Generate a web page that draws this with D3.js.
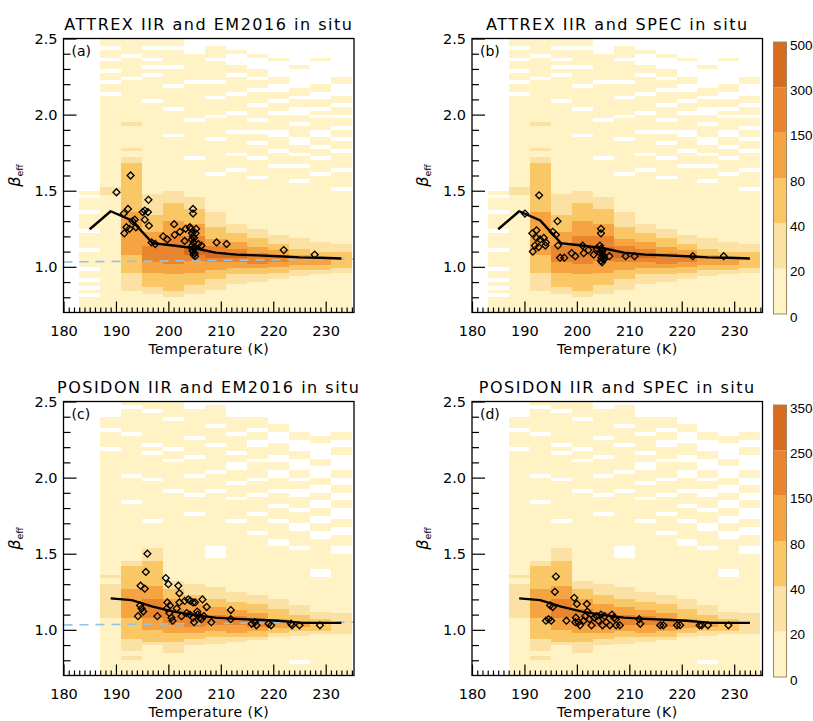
<!DOCTYPE html>
<html lang="en">
<head>
<meta charset="utf-8" />
<title>beta_eff versus temperature</title>
<script src="https://cdn.jsdelivr.net/npm/d3@7"></script>
<style>
  body { margin: 0; background: #fff; }
  svg { font-family: "DejaVu Sans", sans-serif; }
  .axis text { font-family: "DejaVu Sans", sans-serif; font-size: 14.5px; fill: #000; }
  .axis line { stroke-width: 1.2px; }
  .bar text { font-family: "Liberation Sans", sans-serif; font-size: 13.5px; fill: #000; }
</style>
</head>
<body>
<svg id="chart" width="813" height="721"></svg>
<script>
// temperature bins (K), 4 K wide
var colStart = [183, 187, 191, 195, 199, 203, 207, 211, 215, 219, 223, 227, 231];
var colWidth = 4;

// colour bar ticks (counts)
var attrexBar = [0, 20, 40, 80, 150, 300, 500];
var posidonBar = [0, 20, 40, 80, 150, 250, 350];
var levelColours = ["#fff3c6", "#fce1a4", "#f9c766", "#f5a441", "#e8852e", "#d56c20"];

// histogram bands per column: [beta from, beta to, count]
var attrexBands = [
  [[0.70, 1.50, 10]],
  [[0.70, 1.475, 10], [1.475, 1.525, 30], [1.525, 2.50, 10]],
  [[0.70, 0.84, 10], [0.84, 0.96, 30], [0.96, 1.08, 60], [1.08, 1.36, 110], [1.36, 1.68, 60], [1.68, 1.72, 30], [1.72, 1.76, 10], [1.76, 1.78, 30], [1.78, 1.925, 10], [1.925, 1.95, 30], [1.95, 2.50, 10]],
  [[0.70, 0.82, 10], [0.82, 0.87, 30], [0.87, 0.96, 60], [0.96, 1.03, 110], [1.03, 1.14, 220], [1.14, 1.23, 110], [1.23, 1.34, 60], [1.34, 1.48, 30], [1.48, 2.50, 10]],
  [[0.70, 0.80, 10], [0.80, 0.84, 30], [0.84, 0.95, 60], [0.95, 1.02, 110], [1.02, 1.20, 220], [1.20, 1.30, 110], [1.30, 1.42, 60], [1.42, 1.50, 30], [1.50, 2.50, 10]],
  [[0.70, 0.82, 10], [0.82, 0.88, 30], [0.88, 0.96, 60], [0.96, 1.04, 110], [1.04, 1.08, 220], [1.08, 1.13, 400], [1.13, 1.20, 220], [1.20, 1.28, 110], [1.28, 1.38, 60], [1.38, 1.46, 30], [1.46, 2.50, 10]],
  [[0.70, 0.85, 10], [0.85, 0.92, 30], [0.92, 0.98, 60], [0.98, 1.03, 110], [1.03, 1.06, 220], [1.06, 1.10, 400], [1.10, 1.14, 220], [1.14, 1.18, 110], [1.18, 1.26, 60], [1.26, 1.36, 30], [1.36, 2.50, 10]],
  [[0.70, 0.89, 10], [0.89, 0.95, 30], [0.95, 0.99, 60], [0.99, 1.03, 110], [1.03, 1.06, 220], [1.06, 1.09, 400], [1.09, 1.12, 220], [1.12, 1.16, 110], [1.16, 1.22, 60], [1.22, 1.28, 30], [1.28, 2.50, 10]],
  [[0.70, 0.90, 10], [0.90, 0.95, 30], [0.95, 0.99, 60], [0.99, 1.02, 110], [1.02, 1.09, 220], [1.09, 1.13, 110], [1.13, 1.19, 60], [1.19, 1.25, 30], [1.25, 2.50, 10]],
  [[0.70, 0.92, 10], [0.92, 0.96, 30], [0.96, 1.00, 60], [1.00, 1.03, 110], [1.03, 1.08, 220], [1.08, 1.11, 110], [1.11, 1.15, 60], [1.15, 1.21, 30], [1.21, 2.50, 10]],
  [[0.70, 0.94, 10], [0.94, 0.98, 30], [0.98, 1.01, 60], [1.01, 1.08, 110], [1.08, 1.12, 60], [1.12, 1.19, 30], [1.19, 2.50, 10]],
  [[0.70, 0.95, 10], [0.95, 0.98, 30], [0.98, 1.01, 60], [1.01, 1.06, 110], [1.06, 1.10, 60], [1.10, 1.16, 30], [1.16, 2.50, 10]],
  [[0.70, 0.96, 10], [0.96, 0.99, 30], [0.99, 1.10, 60], [1.10, 1.15, 30], [1.15, 2.50, 10]]
];
// empty beta bins per column: [from, to]
var attrexGaps = [
  [[0.80, 0.825], [0.85, 0.875], [0.90, 0.925], [0.975, 1.0], [1.10, 1.125], [1.225, 1.25], [1.35, 1.375], [1.45, 1.475]],
  [[2.125, 2.15], [2.20, 2.225], [2.275, 2.30], [2.35, 2.375], [2.425, 2.45]],
  [[2.225, 2.25], [2.375, 2.40]],
  [[2.075, 2.10], [2.25, 2.275], [2.30, 2.325], [2.35, 2.375], [2.425, 2.45]],
  [[1.85, 1.875], [2.025, 2.05], [2.175, 2.20], [2.30, 2.325], [2.425, 2.45]],
  [[1.70, 1.725], [1.95, 1.975], [2.20, 2.225], [2.40, 2.50]],
  [[1.60, 1.625], [1.825, 1.85], [1.975, 2.0], [2.10, 2.125], [2.20, 2.225], [2.35, 2.375], [2.45, 2.50]],
  [[1.625, 1.65], [1.725, 1.75], [1.875, 1.90], [2.0, 2.025], [2.125, 2.15], [2.25, 2.275], [2.325, 2.40], [2.425, 2.50]],
  [[1.575, 1.60], [1.70, 1.725], [1.80, 1.825], [1.875, 1.90], [1.95, 1.975], [2.05, 2.075], [2.15, 2.175], [2.225, 2.25], [2.30, 2.375], [2.40, 2.50]],
  [[1.65, 1.675], [1.75, 1.775], [1.85, 1.90], [2.0, 2.025], [2.075, 2.10], [2.15, 2.20], [2.25, 2.35], [2.375, 2.50]],
  [[1.55, 1.575], [1.65, 1.675], [1.725, 1.75], [1.80, 1.85], [1.925, 1.95], [2.0, 2.05], [2.10, 2.125], [2.175, 2.30], [2.325, 2.50]],
  [[1.60, 1.625], [1.70, 1.725], [1.775, 1.80], [1.85, 1.90], [1.975, 2.0], [2.025, 2.05], [2.10, 2.15], [2.20, 2.35], [2.375, 2.50]],
  [[1.50, 1.525], [1.625, 1.65], [1.75, 1.775], [1.825, 1.85], [1.90, 1.925], [1.975, 2.0], [2.05, 2.075], [2.125, 2.20], [2.25, 2.50]]
];

var posidonBands = [
  [],
  [[0.70, 1.08, 10], [1.08, 1.30, 30], [1.30, 1.34, 10], [1.34, 1.36, 30], [1.36, 2.50, 10]],
  [[0.70, 0.80, 10], [0.80, 0.825, 30], [0.825, 0.86, 10], [0.86, 0.94, 30], [0.94, 1.08, 60], [1.08, 1.27, 110], [1.27, 1.42, 60], [1.42, 1.45, 30], [1.45, 2.50, 10]],
  [[0.70, 0.90, 10], [0.90, 0.92, 30], [0.92, 1.00, 60], [1.00, 1.08, 110], [1.08, 1.20, 220], [1.20, 1.29, 110], [1.29, 1.45, 60], [1.45, 1.54, 30], [1.54, 2.50, 10]],
  [[0.70, 0.85, 10], [0.85, 0.92, 30], [0.92, 0.98, 60], [0.98, 1.03, 110], [1.03, 1.14, 220], [1.14, 1.20, 110], [1.20, 1.27, 60], [1.27, 1.32, 30], [1.32, 2.50, 10]],
  [[0.70, 0.90, 10], [0.90, 0.94, 30], [0.94, 0.98, 60], [0.98, 1.02, 110], [1.02, 1.12, 220], [1.12, 1.17, 110], [1.17, 1.23, 60], [1.23, 1.30, 30], [1.30, 2.50, 10]],
  [[0.70, 0.91, 10], [0.91, 0.95, 30], [0.95, 0.99, 60], [0.99, 1.03, 110], [1.03, 1.10, 220], [1.10, 1.15, 110], [1.15, 1.20, 60], [1.20, 1.28, 30], [1.28, 2.50, 10]],
  [[0.70, 0.92, 10], [0.92, 0.95, 30], [0.95, 0.98, 60], [0.98, 1.03, 110], [1.03, 1.09, 220], [1.09, 1.13, 110], [1.13, 1.18, 60], [1.18, 1.25, 30], [1.25, 2.50, 10]],
  [[0.70, 0.93, 10], [0.93, 0.95, 30], [0.95, 0.99, 60], [0.99, 1.02, 110], [1.02, 1.07, 220], [1.07, 1.11, 110], [1.11, 1.17, 60], [1.17, 1.23, 30], [1.23, 2.50, 10]],
  [[0.70, 0.95, 10], [0.95, 0.98, 30], [0.98, 1.01, 60], [1.01, 1.07, 110], [1.07, 1.14, 60], [1.14, 1.20, 30], [1.20, 2.50, 10]],
  [[0.70, 0.96, 10], [0.96, 0.99, 30], [0.99, 1.02, 60], [1.02, 1.06, 110], [1.06, 1.10, 60], [1.10, 1.16, 30], [1.16, 2.50, 10]],
  [[0.70, 0.97, 10], [0.97, 0.99, 30], [0.99, 1.07, 60], [1.07, 1.12, 30], [1.12, 2.50, 10]],
  [[0.70, 0.97, 10], [0.97, 1.11, 30], [1.11, 2.50, 10]]
];
var posidonGaps = [
  [],
  [[2.40, 2.50], [2.30, 2.325], [2.175, 2.20]],
  [[2.45, 2.475], [2.275, 2.30], [2.0, 2.025], [1.825, 1.85]],
  [[2.425, 2.45], [2.20, 2.225], [2.15, 2.175], [1.975, 2.0], [1.70, 1.725]],
  [[2.375, 2.40], [2.175, 2.20], [2.10, 2.125], [1.90, 1.925]],
  [[2.45, 2.50], [2.25, 2.275], [2.125, 2.15], [2.0, 2.025], [1.875, 1.90], [1.75, 1.775]],
  [[2.475, 2.50], [2.325, 2.35], [2.20, 2.225], [2.025, 2.05], [1.90, 1.925], [1.475, 1.55]],
  [[2.40, 2.50], [2.275, 2.30], [2.15, 2.175], [2.05, 2.10], [1.95, 1.975], [1.85, 1.875], [1.70, 1.725]],
  [[2.40, 2.50], [2.30, 2.325], [2.20, 2.25], [2.10, 2.125], [1.975, 2.0], [1.875, 1.90], [1.75, 1.775], [1.625, 1.65]],
  [[2.35, 2.50], [2.225, 2.30], [2.10, 2.15], [2.0, 2.05], [1.90, 1.925], [1.80, 1.825], [1.70, 1.725], [1.55, 1.60]],
  [[2.30, 2.50], [2.175, 2.25], [2.05, 2.125], [1.975, 2.0], [1.875, 1.925], [1.775, 1.80], [1.65, 1.70], [1.525, 1.55], [0.775, 0.80]],
  [[2.275, 2.50], [2.125, 2.225], [2.0, 2.075], [1.90, 1.95], [1.80, 1.85], [1.70, 1.75], [1.60, 1.65], [1.35, 1.40]],
  [[2.30, 2.50], [2.20, 2.25], [2.05, 2.15], [1.95, 2.0], [1.85, 1.90], [1.725, 1.80], [1.625, 1.675], [1.50, 1.55]]
];

// binned mean curves
var attrexLineT = [185, 189, 193, 197, 201, 205, 209, 213, 217, 221, 225, 229, 233];
var attrexLineB = [1.247, 1.365, 1.305, 1.155, 1.14, 1.122, 1.093, 1.08, 1.075, 1.07, 1.062, 1.06, 1.055];
var posidonLineT = [189, 193, 197, 201, 205, 209, 213, 217, 221, 225, 229, 233];
var posidonLineB = [1.207, 1.195, 1.152, 1.12, 1.097, 1.08, 1.072, 1.066, 1.06, 1.047, 1.046, 1.046];

// dashed reference
var refT = [180, 235.4];
var refB = [1.032, 1.051];

// in situ points
var diaAT = [190.1, 192.8, 192.3, 191.5, 191.6, 192.0, 192.6, 193.2, 193.6, 193.8, 195.1, 195.5, 196.1, 196.2, 195.5, 196.3, 196.8, 197.5, 199.0, 199.8, 201.2, 201.1, 202.2, 203.1, 203.3, 204.1, 204.7, 204.7, 204.3, 204.5, 204.7, 204.5, 204.8, 204.6, 204.9, 204.7, 205.0, 204.8, 205.1, 204.9, 205.2, 205.3, 205.0, 204.6, 205.7, 206.3, 209.2, 211.1, 222.0, 227.9];
var diaAB = [1.49, 1.60, 1.38, 1.35, 1.22, 1.26, 1.25, 1.30, 1.31, 1.26, 1.36, 1.37, 1.36, 1.44, 1.31, 1.27, 1.16, 1.15, 1.20, 1.18, 1.21, 1.28, 1.23, 1.17, 1.25, 1.26, 1.38, 1.35, 1.25, 1.22, 1.20, 1.18, 1.16, 1.14, 1.12, 1.10, 1.09, 1.08, 1.07, 1.19, 1.22, 1.25, 1.13, 1.11, 1.15, 1.14, 1.16, 1.15, 1.11, 1.08];
var diaBT = [192.8, 190.1, 191.5, 192.3, 191.6, 192.0, 192.7, 192.3, 193.0, 193.7, 194.1, 194.0, 195.4, 196.3, 196.0, 196.4, 196.8, 197.6, 199.0, 199.7, 201.1, 201.3, 202.2, 203.2, 203.8, 204.6, 204.6, 204.4, 204.6, 204.8, 204.5, 204.9, 204.7, 205.0, 204.6, 204.8, 205.1, 204.9, 205.2, 206.2, 209.3, 211.0, 222.1, 228.0];
var diaBB = [1.47, 1.35, 1.22, 1.24, 1.10, 1.14, 1.13, 1.19, 1.18, 1.19, 1.16, 1.14, 1.23, 1.30, 1.21, 1.14, 1.06, 1.06, 1.09, 1.07, 1.14, 1.09, 1.11, 1.08, 1.12, 1.25, 1.22, 1.14, 1.12, 1.10, 1.09, 1.08, 1.06, 1.05, 1.04, 1.03, 1.07, 1.11, 1.05, 1.07, 1.07, 1.07, 1.07, 1.07];
var diaCT = [196.0, 195.7, 194.7, 195.5, 194.6, 194.9, 195.2, 194.2, 197.9, 199.5, 200.0, 199.8, 200.3, 199.7, 200.2, 200.6, 200.8, 201.9, 202.1, 202.1, 201.6, 202.5, 203.1, 203.8, 204.2, 204.7, 205.1, 203.5, 204.1, 204.7, 204.9, 205.6, 206.0, 205.5, 206.5, 206.3, 206.8, 207.3, 208.2, 211.9, 211.9, 215.9, 216.5, 216.8, 219.1, 219.6, 223.4, 223.6, 225.0, 228.9];
var diaCB = [1.50, 1.38, 1.29, 1.27, 1.16, 1.14, 1.12, 1.09, 1.09, 1.34, 1.30, 1.18, 1.16, 1.14, 1.11, 1.08, 1.06, 1.29, 1.24, 1.18, 1.14, 1.09, 1.19, 1.20, 1.19, 1.18, 1.18, 1.11, 1.10, 1.08, 1.05, 1.10, 1.08, 1.12, 1.20, 1.07, 1.09, 1.15, 1.05, 1.13, 1.07, 1.04, 1.05, 1.03, 1.04, 1.03, 1.04, 1.03, 1.03, 1.03];
var diaDT = [196.0, 195.8, 194.9, 195.4, 194.1, 194.6, 195.1, 198.0, 199.5, 200.0, 199.8, 199.7, 200.3, 200.6, 201.3, 201.9, 202.0, 202.4, 202.8, 203.3, 203.8, 204.1, 204.6, 204.9, 205.3, 205.6, 206.3, 206.7, 207.1, 207.5, 208.2, 211.9, 212.1, 215.9, 216.5, 219.1, 219.7, 223.4, 223.8, 225.0, 228.9, 201.6, 207.4];
var diaDB = [1.35, 1.25, 1.16, 1.15, 1.06, 1.07, 1.06, 1.06, 1.21, 1.17, 1.08, 1.05, 1.05, 1.03, 1.06, 1.17, 1.12, 1.07, 1.03, 1.08, 1.09, 1.06, 1.10, 1.03, 1.09, 1.05, 1.03, 1.10, 1.08, 1.03, 1.03, 1.07, 1.04, 1.03, 1.03, 1.03, 1.03, 1.03, 1.03, 1.03, 1.03, 1.09, 1.07];

// axis ticks
var xMajor = [180, 190, 200, 210, 220, 230];
var yMajor = [1.0, 1.5, 2.0, 2.5];
var yMinor = [0.8, 0.9, 1.1, 1.2, 1.3, 1.4, 1.6, 1.7, 1.8, 1.9, 2.1, 2.2, 2.3, 2.4];

var plotW = 290.5, plotH = 274;
var svg = d3.select("#chart");

var panels = [
  { tag: "(a)", title: "ATTREX IIR and EM2016 in situ", left: 63.5, top: 38.5, bands: attrexBands, gaps: attrexGaps, bar: attrexBar, lineT: attrexLineT, lineB: attrexLineB, dT: diaAT, dB: diaAB, ref: true, showBar: false },
  { tag: "(b)", title: "ATTREX IIR and SPEC in situ", left: 472, top: 38.5, bands: attrexBands, gaps: attrexGaps, bar: attrexBar, lineT: attrexLineT, lineB: attrexLineB, dT: diaBT, dB: diaBB, ref: false, showBar: true },
  { tag: "(c)", title: "POSIDON IIR and EM2016 in situ", left: 63.5, top: 401.5, bands: posidonBands, gaps: posidonGaps, bar: posidonBar, lineT: posidonLineT, lineB: posidonLineB, dT: diaCT, dB: diaCB, ref: true, showBar: false },
  { tag: "(d)", title: "POSIDON IIR and SPEC in situ", left: 472, top: 401.5, bands: posidonBands, gaps: posidonGaps, bar: posidonBar, lineT: posidonLineT, lineB: posidonLineB, dT: diaDT, dB: diaDB, ref: false, showBar: true }
];

panels.forEach(drawPanel);

function drawPanel(p) {
  var x = d3.scaleLinear().domain([180, 235.4]).range([0, plotW]);
  var y = d3.scaleLinear().domain([0.7, 2.5]).range([plotH, 0]);
  var color = d3.scaleThreshold().domain(p.bar.slice(1, -1)).range(levelColours);
  var g = svg.append("g").attr("transform", "translate(" + p.left + "," + p.top + ")");

  // 2-d histogram
  var heat = g.append("g").attr("shape-rendering", "crispEdges");
  colStart.forEach(function (t0, i) {
    heat.selectAll(null).data(p.bands[i]).enter().append("rect")
      .attr("x", x(t0)).attr("width", x(t0 + colWidth) - x(t0))
      .attr("y", function (d) { return y(d[1]); })
      .attr("height", function (d) { return y(d[0]) - y(d[1]); })
      .attr("fill", function (d) { return color(d[2]); });
    heat.selectAll(null).data(p.gaps[i]).enter().append("rect")
      .attr("x", x(t0)).attr("width", x(t0 + colWidth) - x(t0))
      .attr("y", function (d) { return y(d[1]); })
      .attr("height", function (d) { return y(d[0]) - y(d[1]); })
      .attr("fill", "#fff");
  });

  if (p.ref) {
    g.append("path")
      .datum(d3.zip(refT, refB))
      .attr("d", d3.line().x(function (d) { return x(d[0]); }).y(function (d) { return y(d[1]); }))
      .attr("fill", "none").attr("stroke", "#93c4e2").attr("stroke-width", 1.6)
      .attr("stroke-dasharray", "9,7");
  }

  g.append("path")
    .datum(d3.zip(p.lineT, p.lineB))
    .attr("d", d3.line().x(function (d) { return x(d[0]); }).y(function (d) { return y(d[1]); }))
    .attr("fill", "none").attr("stroke", "#000").attr("stroke-width", 2.4)
    .attr("stroke-linejoin", "round");

  var diamond = d3.symbol(d3.symbolSquare, 24);
  g.selectAll(null).data(d3.zip(p.dT, p.dB)).enter().append("path")
    .attr("d", diamond)
    .attr("transform", function (d) { return "translate(" + x(d[0]) + "," + y(d[1]) + ") rotate(45)"; })
    .attr("fill", "none").attr("stroke", "#000").attr("stroke-width", 1.3);

  // axes, ticks pointing into the plot
  g.append("g").attr("class", "axis").attr("transform", "translate(0," + plotH + ")")
    .call(d3.axisBottom(x).tickValues(d3.range(181, 236).filter(function (v) { return v % 10; })).tickSize(-5).tickFormat(""))
    .call(function (s) { s.select(".domain").remove(); });
  g.append("g").attr("class", "axis").attr("transform", "translate(0," + plotH + ")")
    .call(d3.axisBottom(x).tickValues(xMajor).tickSize(-11).tickPadding(13).tickFormat(d3.format("d")))
    .call(function (s) { s.select(".domain").remove(); });
  g.append("g").attr("class", "axis")
    .call(d3.axisLeft(y).tickValues(yMinor).tickSize(-7).tickFormat(""))
    .call(function (s) { s.select(".domain").remove(); });
  g.append("g").attr("class", "axis")
    .call(d3.axisLeft(y).tickValues(yMajor).tickSize(-13).tickPadding(6).tickFormat(d3.format(".1f")))
    .call(function (s) { s.select(".domain").remove(); });

  g.append("rect").attr("width", plotW).attr("height", plotH)
    .attr("fill", "none").attr("stroke", "#000").attr("stroke-width", 1.3);

  g.append("text").attr("x", 8).attr("y", 17.5)
    .attr("font-size", 14).text(p.tag);

  g.append("text").attr("x", plotW / 2).attr("y", -8.5)
    .attr("text-anchor", "middle").attr("font-size", 16)
    .attr("letter-spacing", 1.5).text(p.title);

  g.append("text").attr("x", plotW / 2).attr("y", plotH + 41.5)
    .attr("text-anchor", "middle").attr("font-size", 14)
    .attr("letter-spacing", 0.5).text("Temperature (K)");

  var yl = g.append("text")
    .attr("transform", "translate(-44," + (plotH / 2) + ") rotate(-90)")
    .attr("text-anchor", "middle");
  yl.append("tspan").attr("font-size", 16).attr("font-style", "italic").text("β");
  yl.append("tspan").attr("font-size", 9.5).attr("dy", 3).text("eff");

  if (p.showBar) {
    var barH = 272, barW = 13;
    var cb = svg.append("g").attr("class", "bar")
      .attr("transform", "translate(773.5," + (p.top + 3.5) + ")");
    var yb = d3.scaleLinear().domain([0, levelColours.length]).range([barH, 0]);
    cb.selectAll("rect.band").data(levelColours).enter().append("rect")
      .attr("class", "band").attr("x", 0).attr("width", barW)
      .attr("y", function (d, i) { return yb(i + 1); })
      .attr("height", function (d, i) { return yb(i) - yb(i + 1); })
      .attr("fill", function (d) { return d; });
    cb.append("rect").attr("width", barW).attr("height", barH)
      .attr("fill", "none").attr("stroke", "#9a8a66").attr("stroke-width", 1);
    cb.selectAll("text").data(p.bar).enter().append("text")
      .attr("x", barW + 3.5)
      .attr("y", function (d, i) { return yb(i) + 7.5; })
      .text(function (d) { return d; });
  }
}
</script>
</body>
</html>
